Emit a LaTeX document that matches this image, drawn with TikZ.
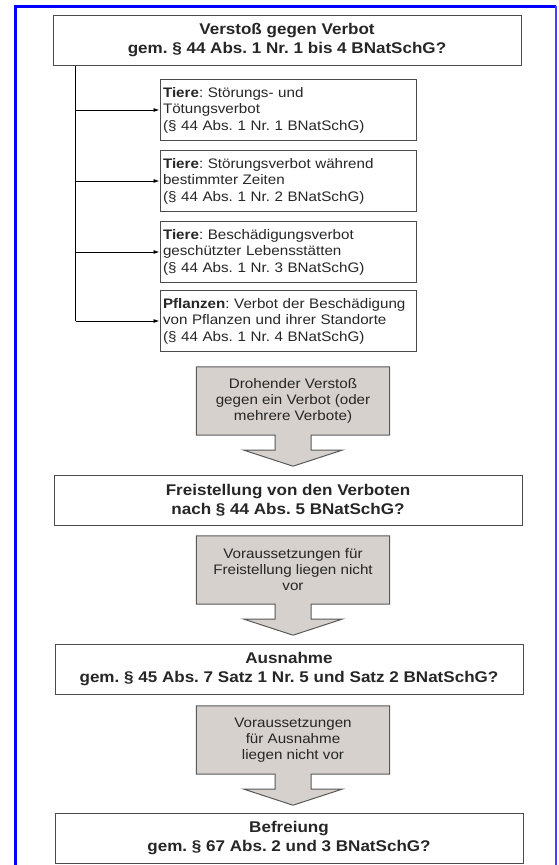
\documentclass[tikz,border=0pt]{standalone}
\usepackage{fontspec}
\setmainfont{Liberation Sans}[FakeStretch=1.1]
\usetikzlibrary{backgrounds,arrows.meta}

\definecolor{grau}{RGB}{214,209,204}
\definecolor{rahmenblau}{RGB}{0,0,255}

\tikzset{
  frage/.style={draw=black!70, line width=1pt, minimum width=468pt, minimum height=50pt,
    align=center, inner sep=0pt, font=\bfseries\fontsize{15.5}{19.5}\selectfont},
  verbot/.style={draw=black!70, line width=1pt, text width=250pt, minimum height=61pt,
    align=left, inner xsep=3pt, inner ysep=2pt, font=\fontsize{13.8}{16.5}\selectfont},
  hinweis/.style={minimum width=193pt, minimum height=68pt, align=center, inner sep=0pt,
    font=\fontsize{13.8}{16}\selectfont},
  pfeil/.style={draw=black!65, line width=1pt, fill=grau},
  zweig/.style={-{Latex[length=6pt,width=4pt]}, line width=0.9pt},
}

\begin{document}
\frenchspacing
\begin{tikzpicture}[x=1pt,y=-1pt, text=black!85]
  \useasboundingbox (0,0) rectangle (559,865);

  % blauer Rahmen
  \draw[rahmenblau, line width=3pt] (15,865) -- (15,6) -- (556,6);
  \draw[rahmenblau!75, line width=2pt] (556,6) -- (556,865);

  \node[frage] (verstoss) at (287,40) {Verstoß gegen Verbot\\gem. § 44 Abs. 1 Nr. 1 bis 4 BNatSchG?};

  \node[verbot] (tiere1) at (288,110) {\textbf{Tiere}: Störungs- und\\Tötungsverbot\\(§ 44 Abs. 1 Nr. 1 BNatSchG)};
  \node[verbot] (tiere2) at (288,181) {\textbf{Tiere}: Störungsverbot während\\bestimmter Zeiten\\(§ 44 Abs. 1 Nr. 2 BNatSchG)};
  \node[verbot] (tiere3) at (288,252) {\textbf{Tiere}: Beschädigungsverbot\\geschützter Lebensstätten\\(§ 44 Abs. 1 Nr. 3 BNatSchG)};
  \node[verbot] (pflanzen) at (288,321) {\textbf{Pflanzen}: Verbot der Beschädigung\\von Pflanzen und ihrer Standorte\\(§ 44 Abs. 1 Nr. 4 BNatSchG)};

  % Verzweigung links
  \coordinate (stamm) at ([xshift=23pt]verstoss.south west);
  \draw[line width=0.9pt] (stamm) -- (stamm |- pflanzen.west);
  \foreach \n in {tiere1,tiere2,tiere3,pflanzen}
    \draw[zweig] (stamm |- \n.west) -- (\n.west);

  \node[hinweis] (drohend) at (293,401) {Drohender Verstoß\\gegen ein Verbot (oder\\mehrere Verbote)};
  \node[frage] (freist) at (288,500) {Freistellung von den Verboten\\nach § 44 Abs. 5 BNatSchG?};
  \node[hinweis] (keinefreist) at (293,570) {Voraussetzungen für\\Freistellung liegen nicht\\vor};
  \node[frage] (ausnahme) at (289,669) {Ausnahme\\gem. § 45 Abs. 7 Satz 1 Nr. 5 und Satz 2 BNatSchG?};
  \node[hinweis] (keineausn) at (293,740) {Voraussetzungen\\für Ausnahme\\liegen nicht vor};
  \node[frage] (befreiung) at (289,838) {Befreiung\\gem. § 67 Abs. 2 und 3 BNatSchG?};

  % graue Pfeile
  \begin{scope}[on background layer]
    \foreach \n in {drohend,keinefreist,keineausn}
      \filldraw[pfeil] (\n.north west) -- (\n.north east) -- (\n.south east)
        -- ([xshift=18pt]\n.south) -- ++(0,15) -- ++(31,0) -- ++(-49,16)
        -- ++(-49,-16) -- ++(31,0) -- ++(0,-15) -- (\n.south west) -- cycle;
  \end{scope}
\end{tikzpicture}
\end{document}
